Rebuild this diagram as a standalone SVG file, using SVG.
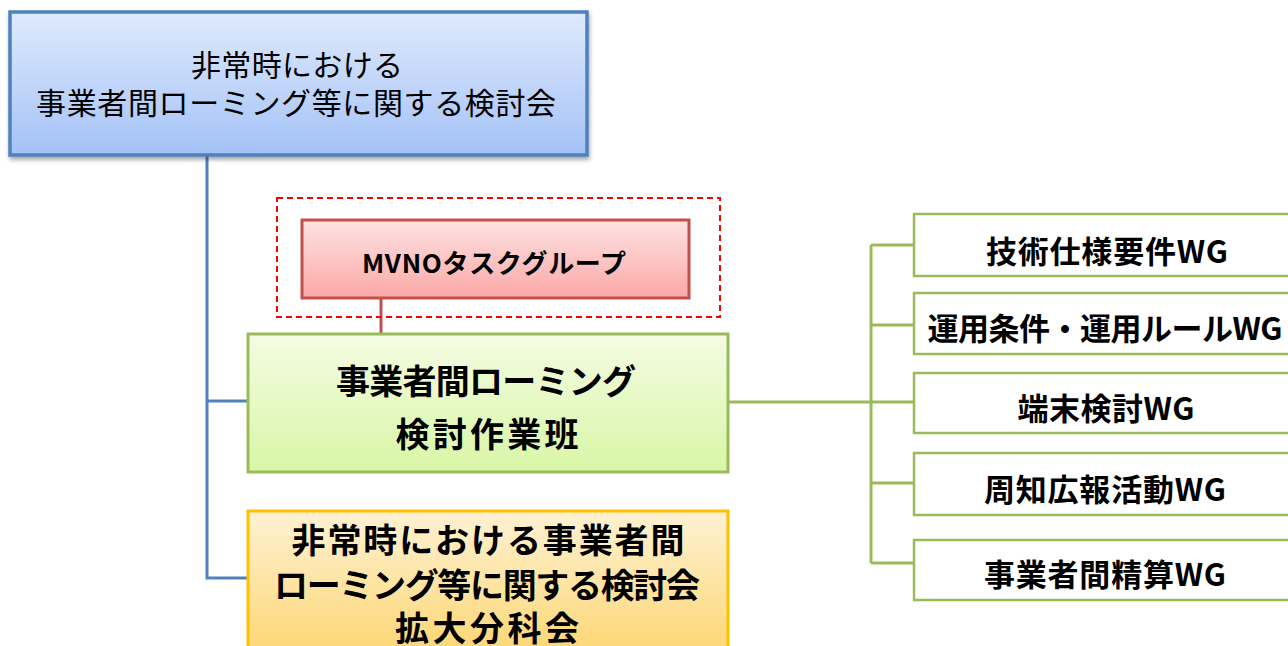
<svg xmlns="http://www.w3.org/2000/svg" width="1288" height="646" viewBox="0 0 1288 646">
<defs>
<linearGradient id="gBlue" x1="0" y1="0" x2="0" y2="1"><stop offset="0" stop-color="#dfeafc"/><stop offset="1" stop-color="#a4c2f7"/></linearGradient>
<linearGradient id="gPink" x1="0" y1="0" x2="0" y2="1"><stop offset="0" stop-color="#fde3e3"/><stop offset="1" stop-color="#fba8a6"/></linearGradient>
<linearGradient id="gGreen" x1="0" y1="0" x2="0" y2="1"><stop offset="0" stop-color="#f4fce3"/><stop offset="1" stop-color="#d8f6a6"/></linearGradient>
<linearGradient id="gYellow" x1="0" y1="0" x2="0" y2="1"><stop offset="0" stop-color="#fff2d4"/><stop offset="1" stop-color="#fdd673"/></linearGradient>
<filter id="sh" x="-5%" y="-5%" width="110%" height="115%"><feDropShadow dx="1" dy="3" stdDeviation="2" flood-color="#000" flood-opacity="0.35"/></filter>
</defs>
<style>
text{font-family:"Noto Sans CJK JP","Noto Sans",sans-serif;fill:#000;text-anchor:middle;dominant-baseline:central}
.b{font-weight:bold}
.c-blue{fill:none;stroke:#4f81bd;stroke-width:3}
.c-green{fill:none;stroke:#9bbb59;stroke-width:3}
.c-red{fill:none;stroke:#c0504d;stroke-width:3}
.wg rect{fill:#fff;stroke:#9bbb59;stroke-width:2.5}
.wg text{font-size:31px;font-weight:bold}
</style>
<g id="connectors">
<path class="c-blue" d="M207 155 V578 H247 M207 401 H247"/>
<path class="c-red" d="M381 298 V333"/>
<path class="c-green" d="M728 402 H913 M871 245 V563 M871 245 H913 M871 325 H913 M871 483 H913 M871 563 H913"/>
</g>
<g id="top">
<rect x="10" y="12" width="577" height="143" fill="url(#gBlue)" stroke="#4f81bd" stroke-width="3.5" filter="url(#sh)"/>
<text x="297" y="63" font-size="30" textLength="212" lengthAdjust="spacing">非常時における</text>
<text x="296" y="101" font-size="30" textLength="520" lengthAdjust="spacing">事業者間ローミング等に関する検討会</text>
</g>
<g id="mvno-group">
<rect x="277" y="198" width="443" height="119" fill="none" stroke="#ff0000" stroke-width="2" stroke-dasharray="6 4"/>
</g>
<g id="mvno">
<rect x="302" y="220" width="387" height="78" fill="url(#gPink)" stroke="#c0504d" stroke-width="3"/>
<text class="b" x="494" y="261" font-size="26" textLength="264" lengthAdjust="spacing">MVNOタスクグループ</text>
</g>
<g id="wt">
<rect x="248" y="334" width="480" height="138" fill="url(#gGreen)" stroke="#9bbb59" stroke-width="3"/>
<text class="b" x="486" y="379" font-size="34" textLength="300" lengthAdjust="spacing">事業者間ローミング</text>
<text class="b" x="487" y="432" font-size="34" textLength="183" lengthAdjust="spacing">検討作業班</text>
</g>
<g id="sub">
<rect x="248" y="511" width="480" height="145" fill="url(#gYellow)" stroke="#ffc000" stroke-width="3"/>
<text class="b" x="488" y="538" font-size="34" textLength="393" lengthAdjust="spacing">非常時における事業者間</text>
<text class="b" x="487" y="583" font-size="34" textLength="426" lengthAdjust="spacing">ローミング等に関する検討会</text>
<text class="b" x="487" y="626" font-size="34" textLength="184" lengthAdjust="spacing">拡大分科会</text>
</g>
<g id="wg1" class="wg"><rect x="914" y="214" width="380" height="62"/><text x="1107" y="249" textLength="242" lengthAdjust="spacing">技術仕様要件WG</text></g>
<g id="wg2" class="wg"><rect x="914" y="293" width="380" height="61"/><text x="1105" y="326" textLength="355" lengthAdjust="spacing">運用条件・運用ルールWG</text></g>
<g id="wg3" class="wg"><rect x="914" y="373" width="380" height="60"/><text x="1106" y="406" textLength="177" lengthAdjust="spacing">端末検討WG</text></g>
<g id="wg4" class="wg"><rect x="914" y="453" width="380" height="62"/><text x="1105" y="487" textLength="242" lengthAdjust="spacing">周知広報活動WG</text></g>
<g id="wg5" class="wg"><rect x="914" y="540" width="380" height="60"/><text x="1105" y="572" textLength="242" lengthAdjust="spacing">事業者間精算WG</text></g>
</svg>
